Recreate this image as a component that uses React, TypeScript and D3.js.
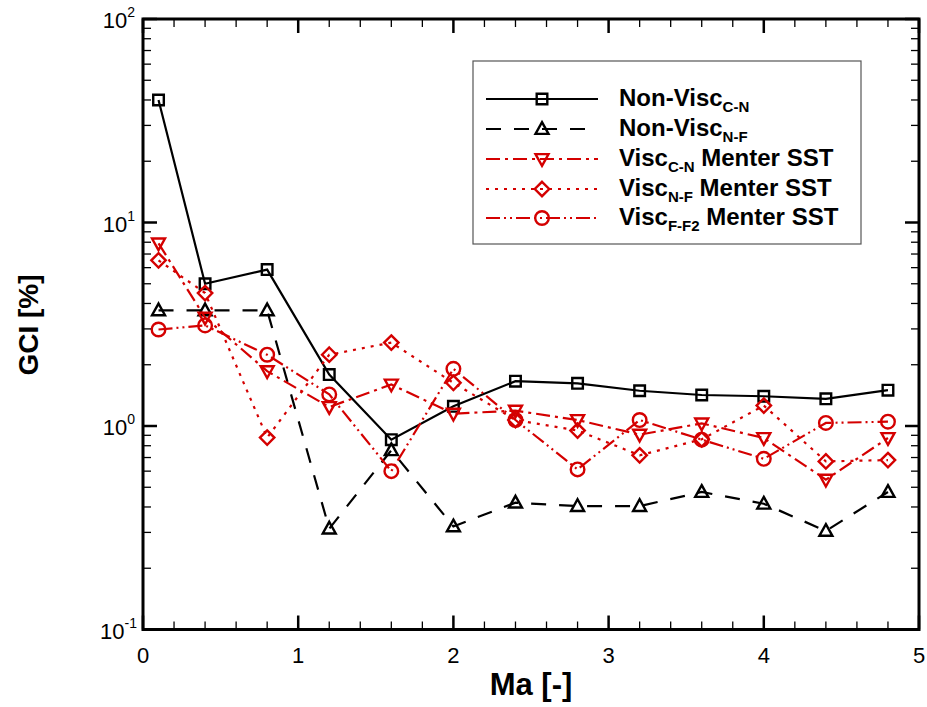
import React from "react";
import * as d3 from "d3";

// Mach numbers of the computed cases
const MA = [0.1, 0.4, 0.8, 1.2, 1.6, 2.0, 2.4, 2.8, 3.2, 3.6, 4.0, 4.4, 4.8];

// Grid convergence index [%] per grid pair / model
const nonViscCN = [40, 5.0, 5.87, 1.79, 0.857, 1.25, 1.66, 1.62, 1.49, 1.42, 1.4, 1.36, 1.5];
const nonViscNF = [3.7, 3.7, 3.7, 0.313, 0.76, 0.321, 0.42, 0.404, 0.404, 0.474, 0.415, 0.305, 0.474];
const viscCN = [7.9, 3.41, 1.86, 1.24, 1.6, 1.15, 1.19, 1.07, 0.907, 1.03, 0.873, 0.545, 0.873];
const viscNF = [6.52, 4.5, 0.877, 2.24, 2.57, 1.63, 1.07, 0.95, 0.718, 0.86, 1.26, 0.67, 0.68];
const viscFF2 = [2.98, 3.12, 2.24, 1.43, 0.6, 1.91, 1.07, 0.612, 1.07, 0.857, 0.69, 1.035, 1.05];

const X_TICKS = [0, 1, 2, 3, 4, 5];
const Y_DECADES = [-1, 0, 1, 2];

const W = 927;
const H = 707;
const M = { left: 143, right: 919, top: 19, bottom: 629.5 };
const RED = "#d40000";
const FONT = "'Liberation Sans', Arial, Helvetica, sans-serif";

type Marker = "square" | "triUp" | "triDown" | "diamond" | "circle";

interface Series {
  main: string;
  sub: string;
  tail: string;
  values: number[];
  color: string;
  dash: string;
  marker: Marker;
}

const SERIES: Series[] = [
  { main: "Non-Visc", sub: "C-N", tail: "", values: nonViscCN, color: "#000", dash: "", marker: "square" },
  { main: "Non-Visc", sub: "N-F", tail: "", values: nonViscNF, color: "#000", dash: "15 13", marker: "triUp" },
  { main: "Visc", sub: "C-N", tail: " Menter SST", values: viscCN, color: RED, dash: "14 5 3 5", marker: "triDown" },
  { main: "Visc", sub: "N-F", tail: " Menter SST", values: viscNF, color: RED, dash: "3 6", marker: "diamond" },
  { main: "Visc", sub: "F-F2", tail: " Menter SST", values: viscFF2, color: RED, dash: "14 4 2 4 2 4", marker: "circle" },
];

function markerPath(kind: Marker, x: number, y: number): string {
  switch (kind) {
    case "square": {
      const s = 5.3;
      return `M${x - s},${y - s}H${x + s}V${y + s}H${x - s}Z`;
    }
    case "triUp": {
      const s = 6.5;
      return `M${x},${y - s * 1.05}L${x + s},${y + s * 0.75}L${x - s},${y + s * 0.75}Z`;
    }
    case "triDown": {
      const s = 6.5;
      return `M${x},${y + s * 1.05}L${x + s},${y - s * 0.75}L${x - s},${y - s * 0.75}Z`;
    }
    case "diamond": {
      const s = 7.2;
      return `M${x},${y - s}L${x + s},${y}L${x},${y + s}L${x - s},${y}Z`;
    }
    case "circle": {
      const r = 6.8;
      return `M${x - r},${y}a${r},${r} 0 1,0 ${2 * r},0a${r},${r} 0 1,0 ${-2 * r},0Z`;
    }
  }
}

export default function App() {
  const x = d3.scaleLinear().domain([0, 5]).range([M.left, M.right]);
  const y = d3.scaleLog().domain([0.1, 100]).range([M.bottom, M.top]);

  const line = d3
    .line<number>()
    .x((_, i) => x(MA[i]))
    .y((d) => y(d));

  const xMinor = d3.range(0, 5.0001, 0.2).filter((v) => Math.abs(v - Math.round(v)) > 1e-6);
  const yMinor: number[] = [];
  for (let e = -1; e < 2; e++) for (let k = 2; k <= 9; k++) yMinor.push(k * Math.pow(10, e));

  const major = 14;
  const minor = 8;

  const legend = { x: 473, y: 61, w: 388, h: 183, l0: 486, l1: 598, mx: 542, tx: 619, rows: [99, 129, 159, 189, 218] };

  return (
    <svg width={W} height={H} style={{ position: "absolute", left: 0, top: 0, background: "#fff" }} fontFamily={FONT}>
      <rect x={0} y={0} width={W} height={H} fill="#fff" />

      {/* series */}
      <g>
        {SERIES.map((s, si) => (
          <g key={si}>
            <path d={line(s.values) ?? ""} fill="none" stroke={s.color} strokeWidth={2.2} strokeDasharray={s.dash || undefined} />
            {s.values.map((v, i) => (
              <path key={i} d={markerPath(s.marker, x(MA[i]), y(v))} fill="none" stroke={s.color} strokeWidth={2.4} />
            ))}
          </g>
        ))}
      </g>

      {/* ticks */}
      <g stroke="#000">
        {X_TICKS.map((t) => (
          <g key={`xt${t}`} strokeWidth={2.5}>
            <line x1={x(t)} x2={x(t)} y1={M.bottom} y2={M.bottom - major} />
            <line x1={x(t)} x2={x(t)} y1={M.top} y2={M.top + major} />
          </g>
        ))}
        {xMinor.map((t, i) => (
          <g key={`xm${i}`} strokeWidth={1.3}>
            <line x1={x(t)} x2={x(t)} y1={M.bottom} y2={M.bottom - minor} />
            <line x1={x(t)} x2={x(t)} y1={M.top} y2={M.top + minor} />
          </g>
        ))}
        {Y_DECADES.map((e) => (
          <g key={`yt${e}`} strokeWidth={2.5}>
            <line x1={M.left} x2={M.left + major} y1={y(Math.pow(10, e))} y2={y(Math.pow(10, e))} />
            <line x1={M.right} x2={M.right - major} y1={y(Math.pow(10, e))} y2={y(Math.pow(10, e))} />
          </g>
        ))}
        {yMinor.map((v, i) => (
          <g key={`ym${i}`} strokeWidth={1.3}>
            <line x1={M.left} x2={M.left + minor} y1={y(v)} y2={y(v)} />
            <line x1={M.right} x2={M.right - minor} y1={y(v)} y2={y(v)} />
          </g>
        ))}
      </g>

      {/* frame */}
      <rect x={M.left} y={M.top} width={M.right - M.left} height={M.bottom - M.top} fill="none" stroke="#000" strokeWidth={3} />

      {/* tick labels */}
      <g fontSize={22} fill="#000">
        {X_TICKS.map((t) => (
          <text key={`xl${t}`} x={x(t)} y={663} textAnchor="middle">
            {t}
          </text>
        ))}
        {Y_DECADES.map((e) => (
          <text key={`yl${e}`} x={e < 0 ? 137 : 135} y={y(Math.pow(10, e)) + 9} textAnchor="end">
            10
            <tspan fontSize={14} dy={-11}>
              {e}
            </tspan>
          </text>
        ))}
      </g>

      {/* axis titles */}
      <text x={531} y={695} textAnchor="middle" fontSize={31} fontWeight="bold">
        Ma [-]
      </text>
      <text transform="translate(38,325) rotate(-90)" textAnchor="middle" fontSize={28} fontWeight="bold">
        GCI [%]
      </text>

      {/* legend */}
      <g>
        <rect x={legend.x} y={legend.y} width={legend.w} height={legend.h} fill="#fff" stroke="#555" strokeWidth={1.2} />
        {SERIES.map((s, i) => {
          const ry = legend.rows[i];
          return (
            <g key={`lg${i}`}>
              <line x1={legend.l0} x2={legend.l1} y1={ry} y2={ry} stroke={s.color} strokeWidth={2.2} strokeDasharray={s.dash || undefined} />
              <path d={markerPath(s.marker, legend.mx, ry)} fill="none" stroke={s.color} strokeWidth={2.4} />
              <text x={legend.tx} y={ry + 7} fontSize={24} fontWeight="bold" fill="#000">
                {s.main}
                <tspan fontSize={15} dy={6}>
                  {s.sub}
                </tspan>
                <tspan dy={-6}>{s.tail}</tspan>
              </text>
            </g>
          );
        })}
      </g>
    </svg>
  );
}
